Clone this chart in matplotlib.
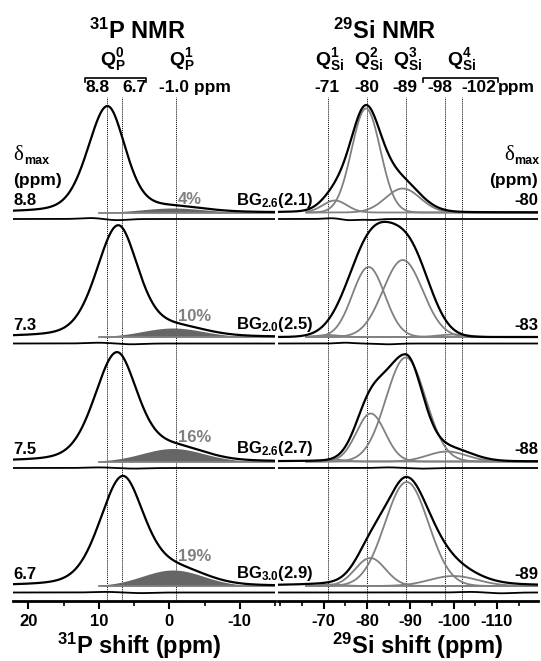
import numpy as np
import matplotlib
matplotlib.use("Agg")
import matplotlib.pyplot as plt
from matplotlib.lines import Line2D
from matplotlib.ticker import MultipleLocator, FixedLocator

plt.rcParams["font.family"] = ["Liberation Sans", "DejaVu Sans"]
plt.rcParams["font.weight"] = "bold"
plt.rcParams["mathtext.fontset"] = "custom"
plt.rcParams["mathtext.rm"] = "Liberation Sans:bold"
plt.rcParams["mathtext.bf"] = "Liberation Sans:bold"
plt.rcParams["axes.unicode_minus"] = False

# ---- data ------------------------------------------------------------------
GLASSES = ["2.6", "2.0", "2.6", "3.0"]
NC_VALUES = ["2.1", "2.5", "2.7", "2.9"]
P_DMAX = ["8.8", "7.3", "7.5", "6.7"]
SI_DMAX = ["-80", "-83", "-88", "-89"]
Q1_PERCENT = [4, 10, 16, 19]

P_LINES = [8.8, 6.7, -1.0]
SI_LINES = [-71, -80, -89, -98, -102]

# components: (centre ppm, hwhm high-ppm side, hwhm low-ppm side, height, lorentz fraction)
P_MAIN = [
    (8.8, 3.3, 3.0, 106, 0.3),
    (7.3, 3.6, 3.3, 110, 0.3),
    (7.5, 3.7, 3.4, 107, 0.3),
    (6.7, 3.8, 3.5, 106, 0.3),
]
P_Q1 = [
    (-0.5, 5.1, 5.1, 4.5, 0.0),
    (-0.5, 5.1, 5.1, 9.0, 0.0),
    (-0.5, 5.1, 5.1, 13.0, 0.0),
    (-0.5, 5.1, 5.1, 16.0, 0.0),
]

SI_BLACK = [
    [(-79.6, 4.2, 4.2, 100, 0.15), (-87.5, 5.3, 5.3, 30, 0.0), (-72.5, 3.5, 3.5, 14, 0.0)],
    [(-81.5, 6.5, 6.5, 101, 0.0), (-90.5, 5.3, 5.3, 68, 0.0)],
    [(-89.0, 6.1, 4.5, 104, 0.1), (-80.5, 3.9, 3.9, 42, 0.0), (-99.0, 5.9, 5.9, 12, 0.0)],
    [(-89.2, 6.0, 6.5, 106, 0.3), (-80.8, 4.1, 4.1, 24, 0.0), (-100.0, 6.5, 6.5, 12, 0.0)],
]
SI_GRAY = [
    [(-72.6, 3.3, 3.3, 12, 0), (-79.8, 3.9, 3.9, 104, 0), (-88.3, 4.7, 4.7, 24, 0)],
    [(-71.0, 3.0, 3.0, 2, 0), (-80.4, 4.4, 4.4, 70, 0), (-88.3, 5.4, 5.4, 77, 0), (-100.0, 4.0, 4.0, 2.5, 0)],
    [(-72.0, 3.0, 3.0, 2, 0), (-80.9, 3.9, 3.9, 48, 0), (-89.0, 5.4, 5.4, 104, 0), (-98.5, 5.3, 5.3, 10, 0)],
    [(-72.0, 3.0, 3.0, 1.5, 0), (-80.8, 4.1, 4.1, 28, 0), (-89.2, 5.9, 5.9, 104, 0), (-100.0, 6.5, 6.5, 10, 0)],
]

# residual (difference) wiggles: (centre, hwhm, height)
P_RESID = [
    [(11.0, 1.8, 1.0), (7.5, 1.8, -1.2)],
    [(10.0, 2.0, 0.8), (5.5, 2.0, -0.8)],
    [(10.0, 2.0, 0.6), (5.0, 2.0, -0.6)],
    [(9.0, 2.0, 0.6), (4.0, 2.0, -0.6)],
]
SI_RESID = [
    [(-76.0, 2.0, -1.2), (-81.0, 2.0, -1.0), (-72.0, 2.0, 0.8)],
    [(-75.0, 2.0, 0.8), (-85.0, 2.5, -0.8)],
    [(-85.0, 2.5, 0.6), (-93.0, 2.5, -0.6)],
    [(-104.0, 3.0, 0.6), (-111.0, 3.0, -0.8)],
]

P_XLIM = (22.2, -15.0)
SI_XLIM = (-59.5, -119.5)
P_TICKS = [20, 10, 0, -10]
SI_TICKS = [-70, -80, -90, -100, -110]

# ---- layout (pixels of a 541 x 661 image) ---------------------------------
W, H = 541, 661
AX_TOP, AX_BOT = 97, 601
OFFSETS = [388.5, 264.0, 139.5, 15.0]   # spectrum baselines, pixels above the axis line
RES_GAP = 6.5


def fx(x):
    return x / W


def fy(y):
    return 1 - y / H


def pvoigt(x, comps):
    out = np.zeros_like(x)
    for c, wl, wr, a, eta in comps:
        w = np.where(x > c, wl, wr)
        d = (x - c) / w
        out += a * (eta / (1 + d ** 2) + (1 - eta) * np.exp(-np.log(2) * d ** 2))
    return out


def gauss(x, comps):
    out = np.zeros_like(x)
    for c, w, a in comps:
        out += a * np.exp(-np.log(2) * ((x - c) / w) ** 2)
    return out


fig = plt.figure(figsize=(W / 100, H / 100), dpi=100)
ax_p = fig.add_axes([fx(13), fy(AX_BOT), fx(275 - 13), (AX_BOT - AX_TOP) / H])
ax_s = fig.add_axes([fx(278), fy(AX_BOT), fx(538 - 278), (AX_BOT - AX_TOP) / H])

xp = np.linspace(P_XLIM[0], P_XLIM[1], 800)
xs = np.linspace(SI_XLIM[0], SI_XLIM[1], 800)

for i, base in enumerate(OFFSETS):
    # 31P
    main = pvoigt(xp, [P_MAIN[i]])
    q1 = pvoigt(xp, [P_Q1[i]])
    m = xp <= 10
    ax_p.fill_between(xp[m], base, base + q1[m], color="#666666", lw=0, zorder=2)
    ax_p.plot(xp[m], np.full(m.sum(), base), color="#808080", lw=1.3, zorder=2)
    ax_p.plot(xp, base + main + q1, color="black", lw=1.6, zorder=3)
    ax_p.plot(xp, base - RES_GAP + gauss(xp, P_RESID[i]), color="black", lw=1.3, zorder=3)
    y_pct = base + pvoigt(np.array([-1.0]), [P_MAIN[i], P_Q1[i]])[0] + 1.5
    ax_p.text(-1.2, y_pct, f"{Q1_PERCENT[i]}%", color="#7f7f7f", fontsize=12,
              fontweight="bold", ha="left", va="baseline", zorder=4)

    # 29Si
    ms = xs <= -66
    for comp in SI_GRAY[i]:
        ax_s.plot(xs[ms], base + pvoigt(xs[ms], [comp]), color="#808080", lw=1.3, zorder=2)
    ax_s.plot(xs, base + pvoigt(xs, SI_BLACK[i]), color="black", lw=1.6, zorder=3)
    ax_s.plot(xs, base - RES_GAP + gauss(xs, SI_RESID[i]), color="black", lw=1.3, zorder=3)

    # labels beside each spectrum
    ypx = AX_BOT - base - 7
    fig.text(fx(13), fy(ypx), P_DMAX[i], fontsize=12, ha="left", va="baseline")
    fig.text(fx(538), fy(ypx), SI_DMAX[i], fontsize=12, ha="right", va="baseline")
    fig.text(fx(236), fy(ypx - 1), r"BG$\mathregular{_{%s}}$(%s)" % (GLASSES[i], NC_VALUES[i]),
             fontsize=12, ha="left", va="baseline")

for ax, lines, xlim, ticks in [(ax_p, P_LINES, P_XLIM, P_TICKS), (ax_s, SI_LINES, SI_XLIM, SI_TICKS)]:
    for v in lines:
        ax.axvline(v, color="black", ls=(0, (1, 1)), lw=0.7, zorder=1)
    ax.set_xlim(*xlim)
    ax.set_ylim(0, AX_BOT - AX_TOP)
    ax.xaxis.set_major_locator(FixedLocator(ticks))
    ax.xaxis.set_minor_locator(MultipleLocator(5))
    ax.set_yticks([])
    for s in ["top", "left", "right"]:
        ax.spines[s].set_visible(False)
    ax.spines["bottom"].set_linewidth(2)
    ax.tick_params(axis="x", which="major", direction="out", length=6, width=1.5,
                   labelsize=12, pad=3)
    ax.tick_params(axis="x", which="minor", direction="out", length=3.5, width=1.2)
    ax.patch.set_alpha(0)
    for lab in ax.get_xticklabels():
        lab.set_fontweight("bold")

# titles and peak assignments
fig.text(fx(137), fy(31), r"$\mathregular{^{31}}$P NMR", fontsize=17, ha="center", va="center")
fig.text(fx(385), fy(31), r"$\mathregular{^{29}}$Si NMR", fontsize=17, ha="center", va="center")

q_labels = [(113, r"Q$\mathregular{^{0}_{P}}$"), (182, r"Q$\mathregular{^{1}_{P}}$"),
            (330, r"Q$\mathregular{^{1}_{Si}}$"), (369, r"Q$\mathregular{^{2}_{Si}}$"),
            (408, r"Q$\mathregular{^{3}_{Si}}$"), (462, r"Q$\mathregular{^{4}_{Si}}$")]
for x, s in q_labels:
    fig.text(fx(x), fy(65), s, fontsize=14, ha="center", va="baseline")

num_labels = [(98, "8.8"), (134, "6.7"), (195, "-1.0 ppm"), (327, "-71"), (367, "-80"),
              (405, "-89"), (440, "-98"), (479, "-102"), (516, "ppm")]
for x, s in num_labels:
    fig.text(fx(x), fy(92), s, fontsize=12.5, ha="center", va="baseline")

for x0, x1 in [(85, 146), (423, 498)]:
    fig.add_artist(Line2D([fx(x0), fx(x0), fx(x1), fx(x1)], [fy(82), fy(77.5), fy(77.5), fy(82)],
                          transform=fig.transFigure, color="black", lw=1.2))

# delta_max captions
fig.text(fx(13), fy(160), "\u03b4", fontsize=15, family="Liberation Serif",
         fontweight="normal", ha="left", va="baseline")
fig.text(fx(24), fy(164), "max", fontsize=9, ha="left", va="baseline")
fig.text(fx(514), fy(160), "\u03b4", fontsize=15, family="Liberation Serif",
         fontweight="normal", ha="right", va="baseline")
fig.text(fx(539), fy(164), "max", fontsize=9, ha="right", va="baseline")
fig.text(fx(13), fy(185), "(ppm)", fontsize=12.5, ha="left", va="baseline")
fig.text(fx(538), fy(185), "(ppm)", fontsize=12.5, ha="right", va="baseline")

fig.text(fx(139), fy(646), r"$\mathregular{^{31}}$P shift (ppm)", fontsize=17, ha="center", va="center")
fig.text(fx(418), fy(646), r"$\mathregular{^{29}}$Si shift (ppm)", fontsize=17, ha="center", va="center")

fig.savefig("out.png", dpi=100)
